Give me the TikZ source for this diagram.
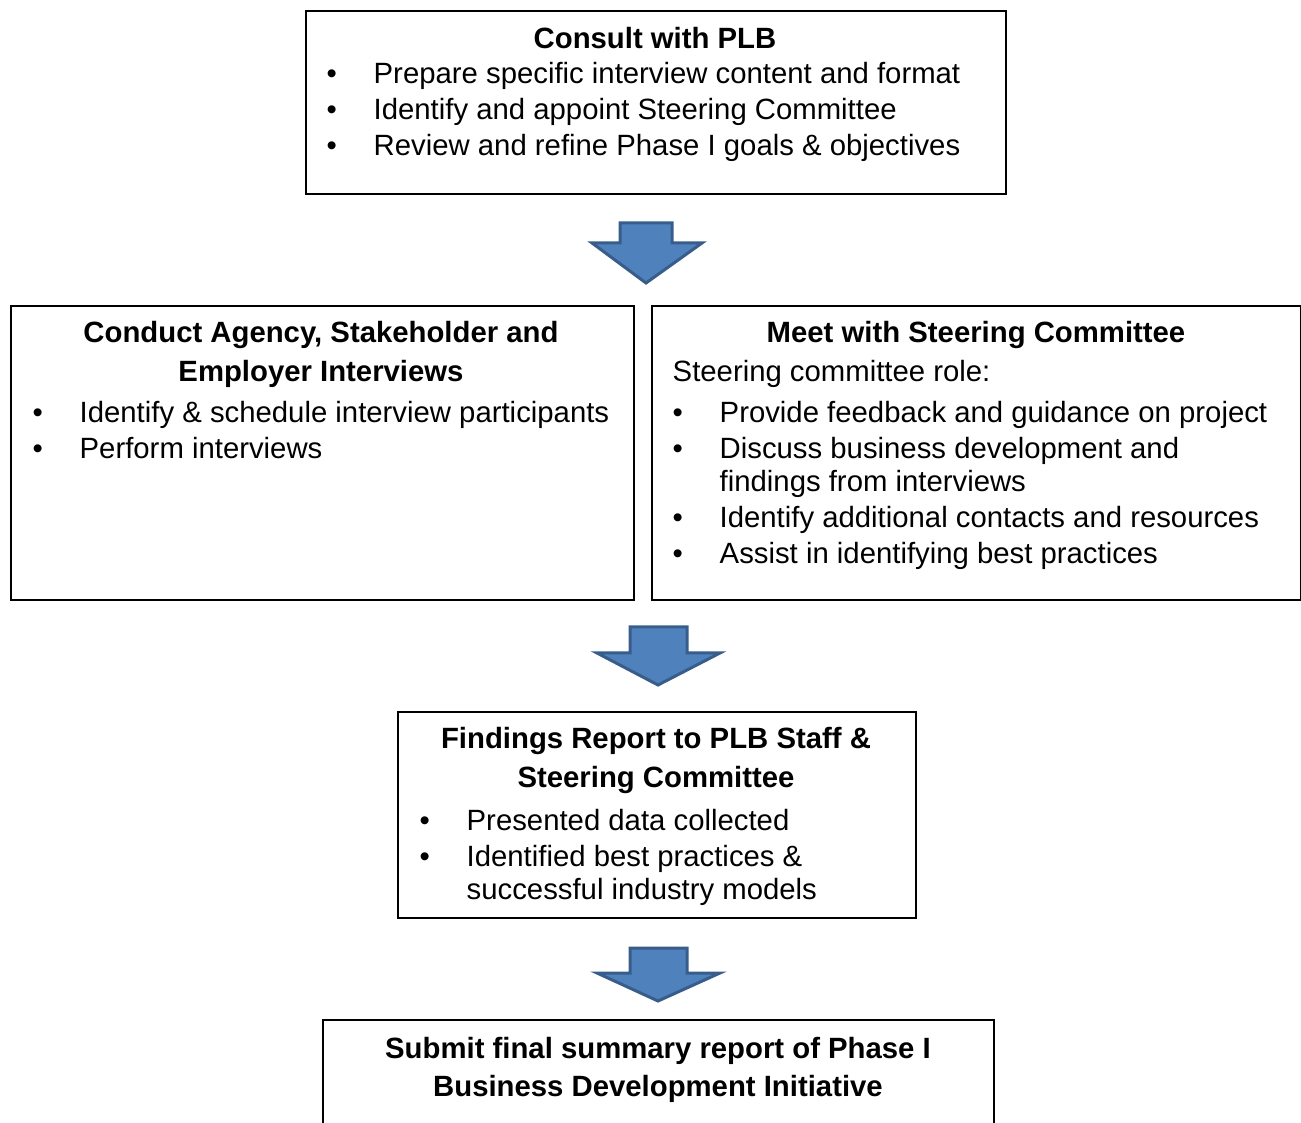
\documentclass[tikz,border=0pt]{standalone}
\usepackage{fontspec}
\setmainfont{Liberation Sans}
\usetikzlibrary{positioning}
\definecolor{arrowblue}{HTML}{4F81BD}
\definecolor{arrowedge}{HTML}{385D8A}
\newcommand{\bodyfont}{\fontsize{8.34pt}{3.3mm}\selectfont}
\newcommand{\bul}{\makebox[4.7mm][l]{\textbullet}}
\newcommand{\ind}{\hspace*{4.7mm}}

\begin{document}
\begin{tikzpicture}[x=0.1mm, y=-0.1mm,
    box/.style={draw, line width=0.2mm, anchor=north west, inner sep=0pt},
    title/.style={font=\bodyfont\bfseries, align=center, anchor=base, inner sep=0pt},
    items/.style={font=\bodyfont, align=left, anchor=base west, inner sep=0pt},
    blockarrow/.style={fill=arrowblue, draw=arrowedge, line width=0.3mm, line join=miter}]
	\clip (0,0) rectangle (1301,1123);

	% boxes
	\node(consult)  [box, minimum width=70mm, minimum height=18.3mm] at (305,10) {};
	\node(interviews)  [box, minimum width=62.3mm, minimum height=29.4mm] at (10,305) {};
	\node(steering)  [box, minimum width=64.9mm, minimum height=29.4mm] at (651,305) {};
	\node(findings)  [box, minimum width=51.8mm, minimum height=20.6mm] at (397,711) {};
	\node(submit)  [box, minimum width=67.1mm, minimum height=13mm] at (322,1019) {};

	% texts (placed at the baseline of their last line)
	\node(consult-t)  [title] at (655,49) {Consult with PLB};
	\node(consult-l)  [items] at (326,156) {\bul Prepare specific interview content and format\\[0.3mm]
		\bul Identify and appoint Steering Committee\\[0.3mm]
		\bul Review and refine Phase I goals \& objectives};

	\node(interviews-t)  [title] at (321,382) {Conduct Agency, Stakeholder and\\[0.6mm] Employer Interviews};
	\node(interviews-l)  [items] at (32,459) {\bul Identify \& schedule interview participants\\[0.3mm]
		\bul Perform interviews};

	\node(steering-t)  [title] at (976,343) {Meet with Steering Committee};
	\node(steering-l)  [items] at (672,564) {Steering committee role:\\[0.8mm]
		\bul Provide feedback and guidance on project\\[0.3mm]
		\bul Discuss business development and\\
		\ind findings from interviews\\[0.3mm]
		\bul Identify additional contacts and resources\\[0.3mm]
		\bul Assist in identifying best practices};

	\node(findings-t)  [title] at (656,788) {Findings Report to PLB Staff \&\\[0.6mm] Steering Committee};
	\node(findings-l)  [items] at (419,899) {\bul Presented data collected\\[0.3mm]
		\bul Identified best practices \&\\
		\ind successful industry models};

	\node(submit-t)  [title] at (658,1096) {Submit final summary report of Phase I\\[0.5mm] Business Development Initiative};

	% block arrows
	\draw[blockarrow] (620,223) -- (672,223) -- (672,243) -- (702,243) -- (646,283) -- (592,243) -- (620,243) -- cycle;
	\draw[blockarrow] (630,627) -- (687,627) -- (687,653) -- (720,653) -- (658,685) -- (597,653) -- (630,653) -- cycle;
	\draw[blockarrow] (630,948) -- (687,948) -- (687,973) -- (720,973) -- (658,1001) -- (597,973) -- (630,973) -- cycle;
\end{tikzpicture}
\end{document}
